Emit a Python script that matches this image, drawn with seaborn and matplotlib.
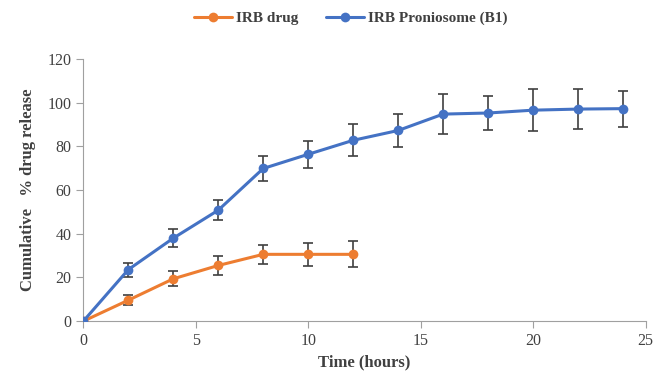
import matplotlib
matplotlib.use("Agg")
import matplotlib.pyplot as plt
import seaborn as sns
import pandas as pd

time_drug = [0, 2, 4, 6, 8, 10, 12]
release_drug = [0, 9.6, 19.4, 25.5, 30.6, 30.6, 30.6]
err_drug = [0, 2.4, 3.5, 4.5, 4.2, 5.3, 5.9]

time_nio = [0, 2, 4, 6, 8, 10, 12, 14, 16, 18, 20, 22, 24]
release_nio = [0, 23.6, 38.0, 50.8, 69.9, 76.4, 82.8, 87.3, 94.8, 95.3, 96.6, 97.1, 97.3]
err_nio = [0, 3.2, 4.2, 4.6, 5.5, 6.2, 7.4, 7.6, 9.0, 7.8, 9.7, 9.1, 8.2]

labels = ["IRB drug", "IRB Proniosome (B1)"]
colors = ["#ED7D31", "#4472C4"]

df = pd.concat([
    pd.DataFrame({"t": time_drug, "r": release_drug, "e": err_drug, "s": labels[0]}),
    pd.DataFrame({"t": time_nio, "r": release_nio, "e": err_nio, "s": labels[1]}),
])

sns.set_style("white")
plt.rcParams["font.family"] = ["Liberation Serif", "DejaVu Serif"]

fig = plt.figure(figsize=(6.56, 3.81), dpi=100)
ax = fig.add_axes([0.127, 0.157, 0.857, 0.688])

for lab, col in zip(labels, colors):
    sub = df[df["s"] == lab]
    ax.errorbar(sub["t"], sub["r"], yerr=sub["e"], fmt="none", ecolor="#404040",
                elinewidth=1.2, capsize=3.5, capthick=1.2, zorder=2)

sns.lineplot(data=df, x="t", y="r", hue="s", palette=colors, marker="o",
             markersize=7, markeredgewidth=0, linewidth=2.2, ax=ax,
             estimator=None, sort=False, zorder=3)

ax.set_xlim(0, 25)
ax.set_ylim(0, 120)
ax.set_xticks([0, 5, 10, 15, 20, 25])
ax.set_yticks(range(0, 121, 20))
ax.tick_params(axis="both", labelsize=11.5, colors="#404040", length=5,
               width=0.8, direction="out", bottom=True, left=True, color="#A0A0A0")
for sp in ["top", "right"]:
    ax.spines[sp].set_visible(False)
for sp in ["left", "bottom"]:
    ax.spines[sp].set_color("#A0A0A0")
    ax.spines[sp].set_linewidth(0.8)

ax.set_xlabel("Time (hours)", fontsize=12, fontweight="bold", color="#404040")
ax.set_ylabel("Cumulative   % drug release", fontsize=12, fontweight="bold",
              color="#404040", labelpad=8)

leg = ax.legend(loc="upper center", bbox_to_anchor=(0.475, 1.235), ncol=2,
                frameon=False, fontsize=11, handlelength=2.5, columnspacing=1.8,
                handletextpad=0.25, title=None)
for t in leg.get_texts():
    t.set_color("#404040")
    t.set_fontweight("bold")

fig.savefig("out.png", dpi=100)
